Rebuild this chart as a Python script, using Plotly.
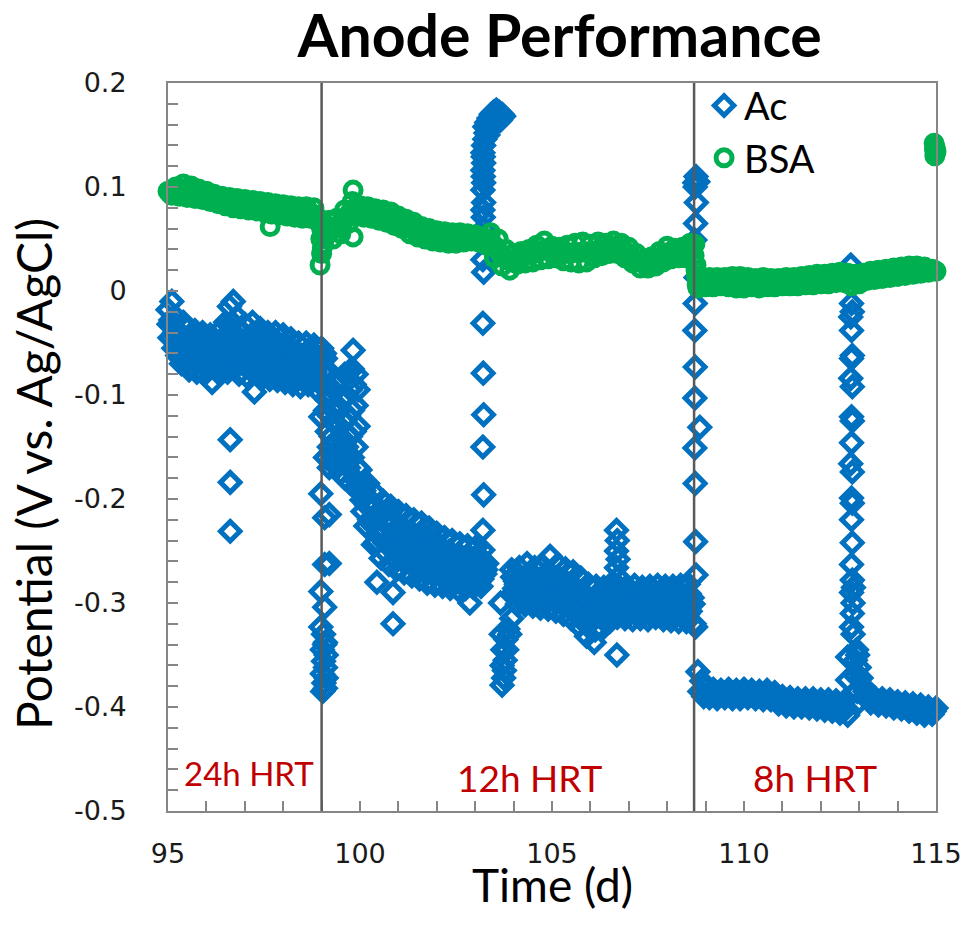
import plotly.graph_objects as go

# ---------------- data ----------------
# Ac electrode, 24h HRT period
ac_time_24h = [95.00, 95.05, 95.10, 95.15, 95.20, 95.25, 95.30, 95.35, 95.40, 95.45,
               95.50, 95.55, 95.60, 95.65, 95.70, 95.75, 95.80, 95.85, 95.90, 95.95,
               96.00, 96.05, 96.10, 96.15, 96.20, 96.25, 96.30, 96.35, 96.40, 96.45,
               96.50, 96.55, 96.60, 96.65, 96.70, 96.75, 96.80, 96.85, 96.90, 96.95,
               97.00, 97.05, 97.10, 97.15, 97.20, 97.25, 97.30, 97.35, 97.40, 97.45,
               97.50, 97.55, 97.60, 97.65, 97.70, 97.75, 97.80, 97.85, 97.90, 97.95,
               98.00, 98.05, 98.10, 98.15, 98.20, 98.25, 98.30, 98.35, 98.40, 98.45,
               98.50, 98.55, 98.60, 98.65, 98.70, 98.75, 98.80, 98.85, 98.90, 98.95,
               99.00, 99.05, 99.10, 99.15,
               96.62, 96.62, 96.62,
               95.025, 95.075, 95.125, 95.175, 95.225, 95.275, 95.325, 95.375, 95.425, 95.475,
               95.525, 95.575, 95.625, 95.675, 95.725, 95.775, 95.825, 95.875, 95.925, 95.975,
               96.025, 96.075, 96.125, 96.175, 96.225, 96.275, 96.325, 96.375, 96.425, 96.475,
               96.525, 96.575, 96.625, 96.675, 96.725, 96.775, 96.825, 96.875, 96.925, 96.975,
               97.025, 97.075, 97.125, 97.175, 97.225, 97.275, 97.325, 97.375, 97.425, 97.475,
               97.525, 97.575, 97.625, 97.675, 97.725, 97.775, 97.825, 97.875, 97.925, 97.975,
               98.025, 98.075, 98.125, 98.175, 98.225, 98.275, 98.325, 98.375, 98.425, 98.475,
               98.525, 98.575, 98.625, 98.675, 98.725, 98.775, 98.825, 98.875, 98.925, 98.975,
               99.025, 99.075, 99.125]
ac_pot_24h = [-0.018, -0.045, -0.010, -0.055, -0.025, -0.062, -0.040, -0.070, -0.030, -0.058,
              -0.036, -0.076, -0.048, -0.066, -0.038, -0.078, -0.052, -0.070, -0.040, -0.080,
              -0.055, -0.068, -0.042, -0.088, -0.050, -0.072, -0.040, -0.080, -0.058, -0.070,
              -0.030, -0.078, -0.015, -0.050, -0.010, -0.065, -0.025, -0.080, -0.040, -0.070,
              -0.032, -0.082, -0.050, -0.066, -0.030, -0.097, -0.048, -0.075, -0.036, -0.084,
              -0.055, -0.070, -0.040, -0.085, -0.058, -0.072, -0.040, -0.086, -0.060, -0.074,
              -0.042, -0.088, -0.062, -0.076, -0.046, -0.090, -0.065, -0.078, -0.050, -0.092,
              -0.068, -0.080, -0.050, -0.090, -0.066, -0.082, -0.052, -0.094, -0.070, -0.085,
              -0.055, -0.090, -0.065, -0.080,
              -0.143, -0.184, -0.231,
              -0.032, -0.028, -0.035, -0.040, -0.045, -0.050, -0.055, -0.048, -0.045, -0.068,
              -0.060, -0.055, -0.072, -0.045, -0.060, -0.065, -0.045, -0.060, -0.062, -0.048,
              -0.075, -0.058, -0.065, -0.046, -0.062, -0.055, -0.068, -0.048, -0.064, -0.050,
              -0.055, -0.040, -0.062, -0.030, -0.045, -0.050, -0.060, -0.055, -0.062, -0.050,
              -0.060, -0.045, -0.075, -0.042, -0.060, -0.065, -0.060, -0.050, -0.065, -0.045,
              -0.078, -0.050, -0.065, -0.048, -0.078, -0.052, -0.066, -0.050, -0.080, -0.055,
              -0.070, -0.052, -0.082, -0.056, -0.072, -0.058, -0.084, -0.060, -0.074, -0.062,
              -0.086, -0.060, -0.076, -0.058, -0.088, -0.062, -0.078, -0.062, -0.088, -0.064,
              -0.078, -0.060, -0.075]

# Ac, transition 24h -> 12h HRT
ac_time_shift1 = [98.98, 98.98, 99.08, 99.20, 99.08, 99.20, 98.98, 99.08, 98.98, 99.05,
                  99.10, 99.02, 99.12, 99.05, 99.10, 99.02, 99.12, 99.06, 99.10, 99.03, 99.08,
                  99.10, 99.10, 99.15, 99.15, 99.20, 99.20, 99.20, 99.25, 99.25, 99.30,
                  99.30, 99.30, 99.35, 99.35, 99.40, 99.40, 99.40, 99.45, 99.45, 99.50,
                  99.50, 99.50, 99.55, 99.55, 99.60, 99.60, 99.60, 99.65, 99.65, 99.70,
                  99.70, 99.70, 99.75, 99.75, 99.75, 99.80, 99.80, 99.80, 99.85, 99.85,
                  99.85, 99.90, 99.90, 99.90, 99.90, 99.95, 99.95, 99.95, 99.82]
ac_pot_shift1 = [-0.121, -0.195, -0.218, -0.215, -0.263, -0.262, -0.289, -0.304, -0.323, -0.330,
                 -0.338, -0.345, -0.350, -0.356, -0.362, -0.368, -0.372, -0.377, -0.382, -0.385, -0.340,
                 -0.115, -0.160, -0.135, -0.105, -0.150, -0.120, -0.170, -0.100, -0.140, -0.125,
                 -0.160, -0.095, -0.145, -0.110, -0.090, -0.130, -0.170, -0.115, -0.155, -0.085,
                 -0.140, -0.175, -0.105, -0.160, -0.080, -0.125, -0.180, -0.100, -0.150, -0.078,
                 -0.120, -0.170, -0.095, -0.140, -0.185, -0.075, -0.115, -0.160, -0.090, -0.135,
                 -0.180, -0.080, -0.110, -0.150, -0.190, -0.095, -0.130, -0.170, -0.057]

# Ac, 12h HRT period
ac_time_12h = [100.00, 100.05, 100.10, 100.15, 100.20, 100.25, 100.30, 100.35, 100.40, 100.45,
               100.50, 100.55, 100.60, 100.65, 100.70, 100.75, 100.80, 100.85, 100.90, 100.95,
               101.00, 101.05, 101.10, 101.15, 101.20, 101.25, 101.30, 101.35, 101.40, 101.45,
               101.50, 101.55, 101.60, 101.65, 101.70, 101.75, 101.80, 101.85, 101.90, 101.95,
               102.00, 102.05, 102.10, 102.15, 102.20, 102.25, 102.30, 102.35, 102.40, 102.45,
               102.50, 102.55, 102.60, 102.65, 102.70, 102.75, 102.80, 102.85, 102.90, 102.95,
               103.00, 103.05, 103.10, 103.15, 103.20, 103.25, 103.30,
               100.025, 100.075, 100.125, 100.175, 100.225, 100.275, 100.325, 100.375, 100.425, 100.475,
               100.525, 100.575, 100.625, 100.675, 100.725, 100.775, 100.825, 100.875, 100.925, 100.975,
               101.025, 101.075, 101.125, 101.175, 101.225, 101.275, 101.325, 101.375, 101.425, 101.475,
               101.525, 101.575, 101.625, 101.675, 101.725, 101.775, 101.825, 101.875, 101.925, 101.975,
               102.025, 102.075, 102.125, 102.175, 102.225, 102.275, 102.325, 102.375, 102.425, 102.475,
               102.525, 102.575, 102.625, 102.675, 102.725, 102.775, 102.825, 102.875, 102.925, 102.975,
               103.025, 103.075, 103.125, 103.175, 103.225, 103.275,
               100.44, 100.86, 100.86, 102.86,
               103.20, 103.22, 103.20, 103.22, 103.21, 103.20, 103.22, 103.20, 103.22, 103.21,
               103.20, 103.22, 103.20, 103.22, 103.21, 103.20, 103.22, 103.21, 103.20,
               103.22, 103.25, 103.28, 103.25, 103.30, 103.33, 103.36, 103.38, 103.42, 103.45,
               103.48, 103.52, 103.55, 103.58, 103.62, 103.65, 103.70, 103.74,
               103.68, 103.72, 103.70, 103.74, 103.70, 103.78, 103.80, 103.85, 103.76, 103.82,
               103.90, 103.95, 103.66,
               103.95, 104.00, 104.05, 104.10, 104.15, 104.20, 104.25, 104.30, 104.35, 104.40,
               104.45, 104.50, 104.55, 104.60, 104.65, 104.70, 104.75, 104.80, 104.85, 104.90,
               104.95, 105.00, 105.05, 105.10, 105.15, 105.20, 105.25, 105.30, 105.35, 105.40,
               105.45, 105.50, 105.55, 105.60, 105.65, 105.70, 105.75, 105.80, 105.85, 105.90,
               105.95, 106.00, 106.05, 106.10, 106.15, 106.20, 106.25, 106.30, 106.35, 106.40,
               106.45, 106.50, 106.55, 106.60, 106.65, 106.70, 106.75, 106.80, 106.85, 106.90,
               106.95, 107.00, 107.05, 107.10, 107.15, 107.20, 107.25, 107.30, 107.35, 107.40,
               107.45, 107.50, 107.55, 107.60, 107.65, 107.70, 107.75, 107.80, 107.85, 107.90,
               107.95, 108.00, 108.05, 108.10, 108.15, 108.20, 108.25, 108.30, 108.35, 108.40,
               108.45, 108.50, 108.55, 108.60, 108.65, 108.70,
               103.975, 104.025, 104.075, 104.125, 104.175, 104.225, 104.275, 104.325, 104.375, 104.425,
               104.475, 104.525, 104.575, 104.625, 104.675, 104.725, 104.775, 104.825, 104.875, 104.925,
               104.975, 105.025, 105.075, 105.125, 105.175, 105.225, 105.275, 105.325, 105.375, 105.425,
               105.475, 105.525, 105.575, 105.625, 105.675, 105.725, 105.775, 105.825, 105.875, 105.925,
               105.975, 106.025, 106.075, 106.125, 106.175, 106.225, 106.275, 106.325, 106.375, 106.425,
               106.475, 106.525, 106.575, 106.625, 106.675, 106.725, 106.775, 106.825, 106.875, 106.925,
               106.975, 107.025, 107.075, 107.125, 107.175, 107.225, 107.275, 107.325, 107.375, 107.425,
               107.475, 107.525, 107.575, 107.625, 107.675, 107.725, 107.775, 107.825, 107.875, 107.925,
               107.975, 108.025, 108.075, 108.125, 108.175, 108.225, 108.275, 108.325, 108.375, 108.425,
               108.475, 108.525, 108.575, 108.625, 108.675,
               106.68, 106.70, 106.68, 106.72, 106.68, 106.72, 106.70, 106.69]
ac_pot_12h = [-0.172, -0.201, -0.192, -0.226, -0.185, -0.220, -0.208, -0.244, -0.195, -0.234,
              -0.218, -0.257, -0.202, -0.242, -0.224, -0.263, -0.207, -0.246, -0.230, -0.268,
              -0.212, -0.251, -0.234, -0.271, -0.216, -0.255, -0.238, -0.274, -0.220, -0.258,
              -0.241, -0.277, -0.223, -0.261, -0.246, -0.281, -0.228, -0.265, -0.249, -0.283,
              -0.233, -0.268, -0.252, -0.284, -0.237, -0.270, -0.255, -0.286, -0.240, -0.272,
              -0.257, -0.287, -0.243, -0.272, -0.258, -0.286, -0.245, -0.273, -0.259, -0.285,
              -0.247, -0.272, -0.260, -0.284, -0.249, -0.272, -0.262,
              -0.192, -0.212, -0.188, -0.206, -0.203, -0.223, -0.203, -0.220, -0.241, -0.218,
              -0.233, -0.213, -0.231, -0.252, -0.226, -0.240, -0.220, -0.238, -0.258, -0.232,
              -0.246, -0.226, -0.243, -0.262, -0.237, -0.251, -0.231, -0.247, -0.266, -0.241,
              -0.255, -0.235, -0.252, -0.270, -0.247, -0.260, -0.241, -0.257, -0.274, -0.251,
              -0.263, -0.245, -0.260, -0.277, -0.255, -0.267, -0.250, -0.263, -0.279, -0.258,
              -0.269, -0.253, -0.265, -0.279, -0.259, -0.269, -0.254, -0.265, -0.278, -0.260,
              -0.269, -0.255, -0.265, -0.277, -0.260, -0.268,
              -0.280, -0.290, -0.320, -0.300,
              -0.230, -0.196, -0.150, -0.119, -0.079, -0.031, 0.018, 0.030, 0.060, 0.071,
              0.078, 0.085, 0.097, 0.104, 0.110, 0.116, 0.123, 0.129, 0.133,
              0.140, 0.146, 0.152, 0.158, 0.162, 0.150, 0.166, 0.156, 0.170, 0.160,
              0.172, 0.164, 0.174, 0.166, 0.172, 0.164, 0.170, 0.168,
              -0.330, -0.345, -0.360, -0.372, -0.379, -0.355, -0.335, -0.325, -0.365, -0.345,
              -0.330, -0.315, -0.300,
              -0.268, -0.290, -0.279, -0.301, -0.266, -0.289, -0.277, -0.302, -0.262, -0.288,
              -0.275, -0.303, -0.266, -0.292, -0.278, -0.305, -0.264, -0.290, -0.272, -0.306,
              -0.255, -0.295, -0.278, -0.308, -0.263, -0.296, -0.280, -0.311, -0.267, -0.300,
              -0.283, -0.315, -0.270, -0.305, -0.288, -0.322, -0.276, -0.312, -0.295, -0.332,
              -0.282, -0.318, -0.300, -0.338, -0.284, -0.312, -0.297, -0.325, -0.285, -0.308,
              -0.295, -0.318, -0.284, -0.306, -0.294, -0.314, -0.285, -0.306, -0.294, -0.315,
              -0.284, -0.306, -0.293, -0.316, -0.283, -0.305, -0.294, -0.315, -0.285, -0.307,
              -0.293, -0.316, -0.284, -0.306, -0.295, -0.314, -0.283, -0.305, -0.293, -0.316,
              -0.284, -0.306, -0.294, -0.317, -0.284, -0.307, -0.295, -0.318, -0.283, -0.306,
              -0.294, -0.318, -0.282, -0.308, -0.295, -0.320,
              -0.275, -0.286, -0.282, -0.294, -0.276, -0.287, -0.283, -0.295, -0.274, -0.286,
              -0.282, -0.296, -0.275, -0.288, -0.283, -0.297, -0.274, -0.287, -0.282, -0.298,
              -0.272, -0.288, -0.284, -0.300, -0.276, -0.290, -0.287, -0.303, -0.280, -0.293,
              -0.290, -0.307, -0.284, -0.298, -0.297, -0.314, -0.290, -0.305, -0.303, -0.322,
              -0.296, -0.310, -0.308, -0.326, -0.295, -0.305, -0.302, -0.316, -0.293, -0.302,
              -0.300, -0.310, -0.292, -0.300, -0.298, -0.308, -0.292, -0.300, -0.298, -0.309,
              -0.291, -0.300, -0.298, -0.309, -0.292, -0.300, -0.298, -0.309, -0.291, -0.300,
              -0.298, -0.310, -0.292, -0.300, -0.299, -0.309, -0.291, -0.300, -0.298, -0.310,
              -0.292, -0.301, -0.299, -0.310, -0.292, -0.301, -0.300, -0.311, -0.291, -0.301,
              -0.300, -0.311, -0.291, -0.302, -0.301,
              -0.230, -0.240, -0.250, -0.258, -0.266, -0.275, -0.283, -0.350]

# Ac, transition 12h -> 8h HRT
ac_time_shift2 = [108.72, 108.75, 108.80, 108.73, 108.76, 108.74, 108.72, 108.75, 108.73, 108.72,
                  108.73, 108.72, 108.85, 108.72, 108.73, 108.74, 108.75, 108.74]
ac_pot_shift2 = [0.104, 0.110, 0.105, 0.100, 0.085, 0.065, 0.049, 0.013, -0.012, -0.038,
                 -0.073, -0.103, -0.131, -0.151, -0.185, -0.241, -0.273, -0.323]

# Ac, 8h HRT period
ac_time_8h = [108.80, 108.85, 108.90, 108.95, 109.00, 109.10, 109.20, 109.30, 109.40, 109.50,
              109.60, 109.70, 109.80, 109.90, 110.00, 110.10, 110.20, 110.30, 110.40, 110.50,
              110.60, 110.70, 110.80, 110.90, 111.00, 111.10, 111.20, 111.30, 111.40, 111.50,
              111.60, 111.70, 111.80, 111.90, 112.00, 112.10, 112.20, 112.30, 112.40, 112.50,
              112.60, 112.70,
              109.05, 109.15, 109.25, 109.35, 109.45, 109.55, 109.65, 109.75, 109.85, 109.95,
              110.05, 110.15, 110.25, 110.35, 110.45, 110.55, 110.65, 110.75, 110.85, 110.95,
              111.05, 111.15, 111.25, 111.35, 111.45, 111.55, 111.65, 111.75, 111.85, 111.95,
              112.05, 112.15, 112.25, 112.35, 112.45, 112.55, 112.65,
              112.78, 112.80, 112.82, 112.78, 112.80, 112.82, 112.80, 112.78, 112.82, 112.80,
              112.82, 112.80, 112.78, 112.82, 112.80, 112.82, 112.80, 112.82, 112.80, 112.82,
              112.85, 112.80, 112.84, 112.82, 112.80, 112.84, 112.70, 112.70,
              112.90, 112.93, 112.96, 113.00, 113.05, 113.10, 113.15, 112.90, 112.95, 113.00,
              113.20, 113.30, 113.40, 113.50, 113.60, 113.70, 113.80, 113.90, 114.00, 114.10,
              114.20, 114.30, 114.40, 114.50, 114.60, 114.70, 114.80, 114.90, 115.00, 115.05,
              113.25, 113.35, 113.45, 113.55, 113.65, 113.75, 113.85, 113.95, 114.05, 114.15,
              114.25, 114.35, 114.45, 114.55, 114.65, 114.75, 114.85, 114.95]
ac_pot_8h = [-0.366, -0.385, -0.375, -0.390, -0.382, -0.391, -0.383, -0.392, -0.384, -0.391,
             -0.383, -0.392, -0.384, -0.392, -0.383, -0.391, -0.384, -0.392, -0.385, -0.393,
             -0.384, -0.393, -0.386, -0.397, -0.390, -0.399, -0.391, -0.400, -0.392, -0.400,
             -0.392, -0.401, -0.392, -0.402, -0.393, -0.403, -0.393, -0.404, -0.394, -0.406,
             -0.395, -0.408,
             -0.387, -0.387, -0.388, -0.388, -0.387, -0.387, -0.388, -0.388, -0.388, -0.387,
             -0.387, -0.388, -0.388, -0.389, -0.389, -0.389, -0.389, -0.390, -0.392, -0.394,
             -0.395, -0.395, -0.396, -0.396, -0.396, -0.396, -0.397, -0.397, -0.397, -0.398,
             -0.398, -0.398, -0.399, -0.399, -0.400, -0.401, -0.402,
             0.025, -0.012, -0.020, -0.025, -0.038, -0.062, -0.065, -0.084, -0.092, -0.121,
             -0.125, -0.146, -0.166, -0.174, -0.199, -0.204, -0.220, -0.242, -0.263, -0.278,
             -0.285, -0.290, -0.300, -0.310, -0.323, -0.330, -0.352, -0.374,
             -0.355, -0.345, -0.350, -0.362, -0.372, -0.380, -0.385, -0.370, -0.385, -0.395,
             -0.390, -0.396, -0.391, -0.398, -0.392, -0.399, -0.393, -0.401, -0.395, -0.402,
             -0.396, -0.404, -0.397, -0.406, -0.398, -0.408, -0.400, -0.407, -0.401, -0.404,
             -0.393, -0.394, -0.395, -0.395, -0.396, -0.396, -0.397, -0.398, -0.399, -0.399,
             -0.400, -0.401, -0.402, -0.403, -0.403, -0.404, -0.404, -0.404]

# BSA electrode
bsa_time = [95.0, 95.1, 95.2, 95.3, 95.4, 95.5, 95.6, 95.7, 95.8, 95.9,
            96.0, 96.1, 96.2, 96.3, 96.4, 96.5, 96.6, 96.7, 96.8, 96.9,
            97.0, 97.1, 97.2, 97.3, 97.4, 97.5, 97.6, 97.7, 97.8, 97.9,
            98.0, 98.1, 98.2, 98.3, 98.4, 98.5, 98.6, 98.7, 98.8, 98.9,
            99.0, 99.1, 99.2, 99.3, 99.4, 99.5, 99.6, 99.7, 99.8, 99.9,
            100.0, 100.1, 100.2, 100.3, 100.4, 100.5, 100.6, 100.7, 100.8, 100.9,
            101.0, 101.1, 101.2, 101.3, 101.4, 101.5, 101.6, 101.7, 101.8, 101.9,
            102.0, 102.1, 102.2, 102.3, 102.4, 102.5, 102.6, 102.7, 102.8, 102.9,
            103.0, 103.1, 103.2, 103.3, 103.4, 103.5, 103.6, 103.7, 103.8, 103.9,
            104.0, 104.1, 104.2, 104.3, 104.4, 104.5, 104.6, 104.7, 104.8, 104.9,
            105.0, 105.1, 105.2, 105.3, 105.4, 105.5, 105.6, 105.7, 105.8, 105.9,
            106.0, 106.1, 106.2, 106.3, 106.4, 106.5, 106.6, 106.7, 106.8, 106.9,
            107.0, 107.1, 107.2, 107.3, 107.4, 107.5, 107.6, 107.7, 107.8, 107.9,
            108.0, 108.1, 108.2, 108.3, 108.4, 108.5, 108.6, 108.7, 108.8, 108.9,
            109.0, 109.1, 109.2, 109.3, 109.4, 109.5, 109.6, 109.7, 109.8, 109.9,
            110.0, 110.1, 110.2, 110.3, 110.4, 110.5, 110.6, 110.7, 110.8, 110.9,
            111.0, 111.1, 111.2, 111.3, 111.4, 111.5, 111.6, 111.7, 111.8, 111.9,
            112.0, 112.1, 112.2, 112.3, 112.4, 112.5, 112.6, 112.7, 112.8, 112.9,
            113.0, 113.1, 113.2, 113.3, 113.4, 113.5, 113.6, 113.7, 113.8, 113.9,
            114.0, 114.1, 114.2, 114.3, 114.4, 114.5, 114.6, 114.7, 114.8, 114.9,
            115.0,
            95.05, 95.15, 95.25, 95.35, 95.45, 95.55, 95.65, 95.75, 95.85, 95.95,
            96.05, 96.15, 96.25, 96.35, 96.45, 96.55, 96.65, 96.75, 96.85, 96.95,
            97.05, 97.15, 97.25, 97.35, 97.45, 97.55, 97.65, 97.75, 97.85, 97.95,
            98.05, 98.15, 98.25, 98.35, 98.45, 98.55, 98.65, 98.75, 98.85, 98.95,
            99.05, 99.15, 99.25, 99.35, 99.45, 99.55, 99.65, 99.75, 99.85, 99.95,
            100.05, 100.15, 100.25, 100.35, 100.45, 100.55, 100.65, 100.75, 100.85, 100.95,
            101.05, 101.15, 101.25, 101.35, 101.45, 101.55, 101.65, 101.75, 101.85, 101.95,
            102.05, 102.15, 102.25, 102.35, 102.45, 102.55, 102.65, 102.75, 102.85, 102.95,
            103.05, 103.15, 103.25, 103.35, 103.45, 103.55, 103.65, 103.75, 103.85, 103.95,
            104.05, 104.15, 104.25, 104.35, 104.45, 104.55, 104.65, 104.75, 104.85, 104.95,
            105.05, 105.15, 105.25, 105.35, 105.45, 105.55, 105.65, 105.75, 105.85, 105.95,
            106.05, 106.15, 106.25, 106.35, 106.45, 106.55, 106.65, 106.75, 106.85, 106.95,
            107.05, 107.15, 107.25, 107.35, 107.45, 107.55, 107.65, 107.75, 107.85, 107.95,
            108.05, 108.15, 108.25, 108.35, 108.45, 108.55, 108.65, 108.75, 108.85, 108.95,
            109.05, 109.15, 109.25, 109.35, 109.45, 109.55, 109.65, 109.75, 109.85, 109.95,
            110.05, 110.15, 110.25, 110.35, 110.45, 110.55, 110.65, 110.75, 110.85, 110.95,
            111.05, 111.15, 111.25, 111.35, 111.45, 111.55, 111.65, 111.75, 111.85, 111.95,
            112.05, 112.15, 112.25, 112.35, 112.45, 112.55, 112.65, 112.75, 112.85, 112.95,
            113.05, 113.15, 113.25, 113.35, 113.45, 113.55, 113.65, 113.75, 113.85, 113.95,
            114.05, 114.15, 114.25, 114.35, 114.45, 114.55, 114.65, 114.75, 114.85, 114.95,
            97.66, 98.98, 99.02, 99.00, 98.96, 99.82, 99.82, 108.72, 108.75, 108.76,
            108.78, 114.95, 114.98, 115.00, 114.97, 115.02, 114.96, 115.01, 115.03]
bsa_potential = [0.096, 0.092, 0.100, 0.091, 0.103, 0.090, 0.101, 0.089, 0.098, 0.088,
                 0.096, 0.086, 0.093, 0.084, 0.091, 0.082, 0.090, 0.080, 0.089, 0.079,
                 0.088, 0.078, 0.087, 0.077, 0.086, 0.076, 0.085, 0.074, 0.084, 0.073,
                 0.083, 0.072, 0.082, 0.071, 0.081, 0.070, 0.081, 0.070, 0.080, 0.068,
                 0.060, 0.052, 0.068, 0.050, 0.070, 0.055, 0.078, 0.065, 0.086, 0.072,
                 0.082, 0.071, 0.081, 0.070, 0.079, 0.068, 0.078, 0.066, 0.076, 0.063,
                 0.072, 0.060, 0.069, 0.055, 0.066, 0.052, 0.062, 0.050, 0.060, 0.048,
                 0.058, 0.047, 0.057, 0.046, 0.056, 0.046, 0.056, 0.047, 0.055, 0.048,
                 0.054, 0.047, 0.052, 0.044, 0.056, 0.032, 0.050, 0.024, 0.040, 0.020,
                 0.036, 0.026, 0.038, 0.027, 0.040, 0.028, 0.044, 0.030, 0.048, 0.031,
                 0.043, 0.032, 0.042, 0.029, 0.044, 0.028, 0.046, 0.027, 0.047, 0.028,
                 0.045, 0.032, 0.047, 0.034, 0.046, 0.036, 0.048, 0.036, 0.046, 0.032,
                 0.042, 0.027, 0.036, 0.022, 0.031, 0.022, 0.033, 0.024, 0.038, 0.028,
                 0.043, 0.031, 0.041, 0.032, 0.042, 0.032, 0.046, 0.034, 0.003, 0.012,
                 0.004, 0.013, 0.004, 0.013, 0.005, 0.013, 0.004, 0.014, 0.003, 0.014,
                 0.003, 0.013, 0.004, 0.012, 0.003, 0.013, 0.004, 0.012, 0.004, 0.012,
                 0.005, 0.013, 0.005, 0.013, 0.005, 0.014, 0.006, 0.015, 0.006, 0.016,
                 0.007, 0.016, 0.007, 0.017, 0.008, 0.018, 0.008, 0.017, 0.005, 0.016,
                 0.007, 0.017, 0.010, 0.019, 0.011, 0.020, 0.012, 0.021, 0.013, 0.022,
                 0.014, 0.023, 0.015, 0.024, 0.016, 0.024, 0.017, 0.023, 0.018, 0.021,
                 0.019,
                 0.094, 0.096, 0.097, 0.098, 0.096, 0.095, 0.095, 0.093, 0.092, 0.091,
                 0.090, 0.089, 0.088, 0.087, 0.086, 0.085, 0.084, 0.084, 0.083, 0.083,
                 0.082, 0.082, 0.081, 0.081, 0.080, 0.080, 0.079, 0.078, 0.078, 0.077,
                 0.077, 0.076, 0.076, 0.075, 0.075, 0.075, 0.075, 0.074, 0.073, 0.065,
                 0.045, 0.060, 0.058, 0.062, 0.062, 0.066, 0.071, 0.076, 0.079, 0.077,
                 0.076, 0.076, 0.075, 0.074, 0.073, 0.072, 0.071, 0.070, 0.069, 0.067,
                 0.066, 0.064, 0.062, 0.060, 0.059, 0.057, 0.056, 0.055, 0.054, 0.053,
                 0.052, 0.052, 0.051, 0.051, 0.051, 0.051, 0.051, 0.051, 0.051, 0.051,
                 0.050, 0.050, 0.049, 0.050, 0.045, 0.042, 0.036, 0.032, 0.030, 0.028,
                 0.031, 0.032, 0.033, 0.034, 0.035, 0.036, 0.038, 0.039, 0.040, 0.038,
                 0.037, 0.037, 0.036, 0.036, 0.036, 0.037, 0.037, 0.037, 0.038, 0.037,
                 0.038, 0.039, 0.040, 0.040, 0.041, 0.042, 0.042, 0.041, 0.039, 0.037,
                 0.034, 0.031, 0.029, 0.027, 0.026, 0.027, 0.029, 0.031, 0.033, 0.035,
                 0.037, 0.036, 0.036, 0.037, 0.037, 0.038, 0.040, 0.020, 0.008, 0.008,
                 0.008, 0.009, 0.009, 0.009, 0.009, 0.009, 0.009, 0.009, 0.008, 0.008,
                 0.008, 0.008, 0.008, 0.008, 0.008, 0.008, 0.008, 0.008, 0.008, 0.009,
                 0.009, 0.009, 0.009, 0.009, 0.010, 0.010, 0.011, 0.011, 0.011, 0.012,
                 0.012, 0.012, 0.013, 0.013, 0.013, 0.013, 0.013, 0.011, 0.010, 0.012,
                 0.013, 0.014, 0.015, 0.015, 0.016, 0.016, 0.017, 0.017, 0.018, 0.018,
                 0.019, 0.019, 0.020, 0.020, 0.020, 0.021, 0.020, 0.021, 0.020, 0.020,
                 0.062, 0.050, 0.042, 0.036, 0.025, 0.097, 0.052, 0.045, 0.025, 0.015,
                 0.006, 0.142, 0.138, 0.134, 0.130, 0.126, 0.136, 0.141, 0.129]

# HRT period boundaries and labels
hrt_boundaries = [99.0, 108.7]
hrt_labels = ["24h HRT", "12h HRT", "8h HRT"]

# axis ticks
x_tick_values = [95, 100, 105, 110, 115]
x_tick_labels = ["95", "100", "105", "110", "115"]
y_tick_values = [-0.5, -0.4, -0.3, -0.2, -0.1, 0.0, 0.1, 0.2]
y_tick_labels = ["-0.5", "-0.4", "-0.3", "-0.2", "-0.1", "0", "0.1", "0.2"]

# ---------------- figure ----------------
ac_time = ac_time_24h + ac_time_shift1 + ac_time_12h + ac_time_shift2 + ac_time_8h
ac_potential = ac_pot_24h + ac_pot_shift1 + ac_pot_12h + ac_pot_shift2 + ac_pot_8h

BLUE = "#0070C0"
GREEN = "#00B050"
AXIS_GRAY = "#868686"

fig = go.Figure()
fig.add_trace(go.Scatter(
    x=ac_time, y=ac_potential, mode="markers", name="Ac", legendgroup="ac",
    marker=dict(symbol="diamond-open", size=15, color=BLUE, line=dict(width=5, color=BLUE)),
    cliponaxis=False))
fig.add_trace(go.Scatter(
    x=bsa_time, y=bsa_potential, mode="markers", name="BSA", legendgroup="bsa",
    marker=dict(symbol="circle-open", size=16, color=GREEN, line=dict(width=5, color=GREEN)),
    cliponaxis=False))

for xb in hrt_boundaries:
    fig.add_vline(x=xb, line=dict(color="#595959", width=2.5), layer="above")

label_pos = [(97.1, -0.463, 33), (104.43, -0.468, 37), (111.85, -0.468, 37)]
for txt, (lx, ly, fs) in zip(hrt_labels, label_pos):
    fig.add_annotation(x=lx, y=ly, xref="x", yref="y", text=txt, showarrow=False,
                       xanchor="center", yanchor="middle",
                       font=dict(family="Lato", size=fs, color="#C00000"))

# axis titles placed as paper annotations
fig.add_annotation(x=0.5, y=0, xref="paper", yref="paper", yshift=-73,
                   text="Time (d)", showarrow=False, xanchor="center", yanchor="middle",
                   font=dict(family="Lato", size=46, color="black"))
fig.add_annotation(x=0, y=0.5, xref="paper", yref="paper", xshift=-135, yshift=-27,
                   text="Potential (V vs. Ag/AgCl)", textangle=-90, showarrow=False,
                   xanchor="center", yanchor="middle",
                   font=dict(family="Lato", size=48, color="black"))

fig.update_layout(
    width=965, height=929,
    margin=dict(l=168, r=29, t=83, b=118),
    paper_bgcolor="white", plot_bgcolor="white",
    title=dict(text="Anode Performance", x=0.51, xref="paper", xanchor="center",
               y=1 - 36 / 929, yref="container", yanchor="middle",
               font=dict(family="Lato", size=59, color="black", weight="bold")),
    legend=dict(x=0.698, y=1.012, xanchor="left", yanchor="top",
                bgcolor="rgba(0,0,0,0)", tracegroupgap=0,
                font=dict(family="Lato", size=38, color="black")),
    showlegend=True,
)

common = dict(showline=True, linecolor=AXIS_GRAY, linewidth=2, mirror=True,
              showgrid=False, zeroline=False, ticks="inside", ticklen=10,
              tickwidth=1.5, tickcolor=AXIS_GRAY, ticklabeloverflow="allow",
              automargin=False,
              tickfont=dict(family="DejaVu Sans", size=27, color="#1a1a1a"))

fig.update_xaxes(range=[95, 115], tickmode="array", tickvals=x_tick_values,
                 ticktext=x_tick_labels, ticklabelstandoff=18,
                 minor=dict(ticks="inside", ticklen=10, tickwidth=1.5, tickcolor=AXIS_GRAY,
                            dtick=1, tick0=95, showgrid=False),
                 **common)
fig.update_yaxes(range=[-0.5, 0.2], tickmode="array", tickvals=y_tick_values,
                 ticktext=y_tick_labels, ticklabelstandoff=34,
                 minor=dict(ticks="inside", ticklen=10, tickwidth=1.5, tickcolor=AXIS_GRAY,
                            dtick=0.02, tick0=0, showgrid=False),
                 **common)

fig.write_html("out.html", config={"displayModeBar": False},
               post_script="document.body.style.margin='0px';")
